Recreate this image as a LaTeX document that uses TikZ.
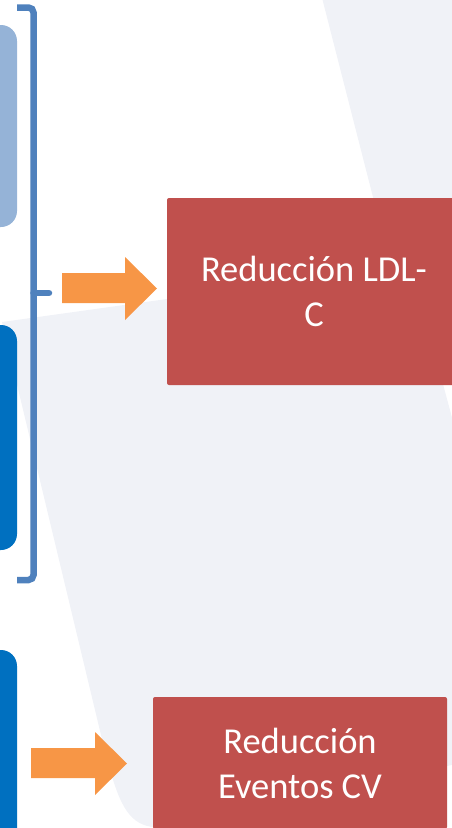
\documentclass[tikz,border=0pt]{standalone}
\usepackage{fontspec}
\setmainfont{Carlito}
\usepackage{xcolor}
\usetikzlibrary{positioning, calc}

\definecolor{ldlred}{HTML}{C0504D}
\definecolor{arroworange}{HTML}{F79646}
\definecolor{bracketblue}{HTML}{4F81BD}
\definecolor{paleblue}{HTML}{95B3D7}
\definecolor{deepblue}{HTML}{0070C0}
\definecolor{bgtint}{HTML}{F0F2F7}

\begin{document}
\begin{tikzpicture}[
  x=1pt, y=-1pt,
  font=\fontsize{36.5}{45}\selectfont,
  align=center,
  bgshape/.style={fill=bgtint, draw=none},
  group/.style={rectangle, rounded corners=16pt, minimum width=140pt,
                inner sep=0pt},
  outcome/.style={rectangle, rounded corners=2pt, fill=ldlred, text=white,
                  minimum width=294pt, inner sep=0pt},
  bigarrow/.style={fill=arroworange, draw=none},
  bracket/.style={draw=bracketblue, line width=6.5pt, rounded corners=5pt},
]
\useasboundingbox (0,0) rectangle (452,828);
\clip (0,0) rectangle (452,828);

% Slide background
\fill[bgshape] (320,-10) -- (375,205) -- (470,205) -- (470,-10) -- cycle;
\fill[bgshape] (2,322) -- (411,265) -- (540,745) -- (235,814)
  .. controls (126,840) .. (95,710) -- cycle;

% Left column (cut off by the crop)
\node[group, fill=paleblue, minimum height=202pt] (left1) at (-53,126) {};
\node[group, fill=deepblue, minimum height=225pt] (left2) at (-53,437.5) {};
\node[group, fill=deepblue, minimum height=260pt] (left3) at (-53,780) {};

% Bracket grouping the first two
\draw[bracket] (17,7.5) -- (33.5,7.5) -- (33.5,580) -- (17,580);
\coordinate (bracemid) at (33.5,293);
\coordinate (bracetip) at (49,293);
\draw[bracket, line cap=round] (bracemid) -- (bracetip);

% Outcomes
\node[outcome, minimum height=187pt] (ldl) at (314,291.5) {Reducción LDL-\\C};
\node[outcome, minimum height=132pt] (cv)  at (300,763)   {Reducción\\Eventos CV};

% Block arrows
\fill[bigarrow] (62,273) -- (125,273) -- (125,257) -- (157,288.5)
  -- (125,320) -- (125,303) -- (62,303) -- cycle;
\fill[bigarrow] (31,748) -- (95,748) -- (95,732) -- (127,763.5)
  -- (95,795) -- (95,778) -- (31,778) -- cycle;

\end{tikzpicture}
\end{document}
